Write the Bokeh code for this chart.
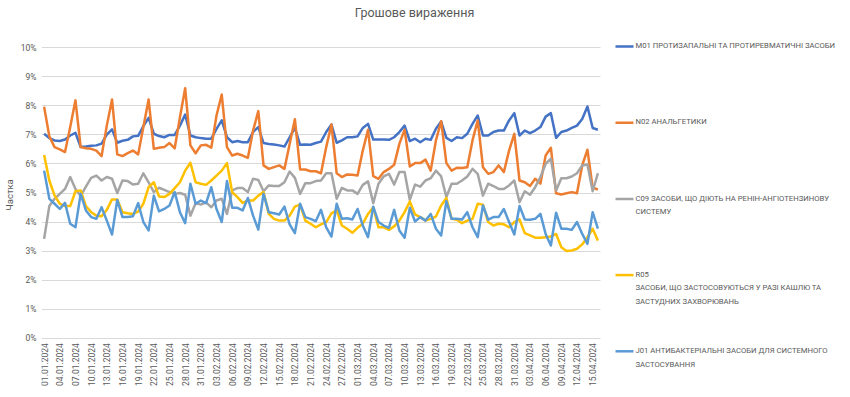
from datetime import date, timedelta
import numpy as np
from bokeh.plotting import figure
from bokeh.models import FixedTicker, Range1d
from bokeh.embed import file_html
from bokeh.resources import INLINE
from bokeh.core.properties import value

# ---------------- data (share, %) ----------------
dates = [(date(2024, 1, 1) + timedelta(days=i)).strftime("%d.%m.%Y") for i in range(107)]

m01 = [7.04, 6.89, 6.81, 6.79, 6.84, 6.98, 7.07, 6.58, 6.60, 6.63, 6.64, 6.70, 7.01, 7.19, 6.73, 6.80, 6.83, 6.95, 6.97, 7.30, 7.59, 7.04,
       6.96, 6.92, 7.00, 7.00, 7.32, 7.70, 6.98, 6.92, 6.89, 6.87, 6.87, 7.21, 7.50, 6.92, 6.75, 6.79, 6.75, 6.75, 7.10, 7.27, 6.72,
       6.69, 6.67, 6.64, 6.60, 6.92, 7.24, 6.66, 6.67, 6.66, 6.72, 6.77, 7.10, 7.36, 6.73, 6.81, 6.92, 6.92, 6.95, 7.24, 7.38, 6.84,
       6.84, 6.84, 6.83, 6.92, 7.10, 7.32, 6.79, 6.87, 6.75, 6.87, 6.83, 7.21, 7.46, 6.90, 6.79, 6.92, 6.89, 7.04, 7.38, 7.67, 6.98, 6.98,
       7.10, 7.15, 7.15, 7.50, 7.75, 6.98, 7.15, 7.06, 7.15, 7.27, 7.63, 7.75, 6.90, 7.10, 7.15, 7.24, 7.32, 7.55, 7.98, 7.24, 7.18]

n02 = [7.97, 6.95, 6.58, 6.50, 6.41, 7.27, 8.19, 6.58, 6.54, 6.52, 6.46, 6.27, 7.32, 8.22, 6.33, 6.27, 6.37, 6.46, 6.33, 7.27, 8.22, 6.52,
       6.56, 6.58, 6.72, 6.54, 7.61, 8.61, 6.64, 6.37, 6.64, 6.66, 6.56, 7.67, 8.39, 6.58, 6.29, 6.35, 6.29, 6.21, 7.15, 7.82, 5.95,
       5.83, 5.89, 5.95, 5.83, 6.69, 7.54, 5.81, 5.81, 5.75, 5.75, 5.68, 6.58, 7.36, 5.68, 5.55, 5.64, 5.63, 5.60, 6.46, 7.18, 5.58,
       5.49, 5.72, 5.83, 5.97, 6.69, 7.18, 5.91, 6.03, 6.03, 6.15, 5.77, 6.81, 7.47, 6.03, 5.77, 5.87, 5.86, 5.89, 6.81, 7.50, 5.89, 5.66,
       5.72, 5.95, 5.72, 6.46, 7.04, 5.43, 5.37, 5.24, 5.49, 5.32, 6.29, 6.56, 4.99, 4.95, 4.99, 5.03, 4.99, 5.95, 6.49, 5.18, 5.12]

c09 = [3.42, 4.55, 4.80, 4.97, 5.14, 5.55, 5.14, 4.90, 5.22, 5.52, 5.60, 5.43, 5.55, 5.49, 5.00, 5.43, 5.41, 5.29, 5.32, 5.68, 5.37, 5.03,
       5.18, 5.11, 5.03, 4.97, 5.00, 4.94, 4.22, 4.65, 4.60, 4.68, 4.51, 4.74, 4.80, 4.28, 5.09, 5.17, 5.17, 5.03, 5.49, 5.45, 5.06,
       5.26, 5.24, 5.24, 5.37, 5.74, 5.52, 4.97, 5.34, 5.34, 5.41, 5.43, 5.68, 5.68, 4.80, 5.18, 5.09, 5.09, 4.97, 5.28, 5.40, 4.65,
       5.32, 5.57, 5.66, 5.29, 5.72, 5.72, 4.76, 5.29, 5.22, 5.43, 5.51, 5.77, 5.57, 4.86, 5.32, 5.32, 5.43, 5.57, 5.83, 5.66, 4.91, 5.32,
       5.24, 5.14, 5.14, 5.26, 5.43, 4.68, 5.06, 4.94, 5.20, 5.55, 6.00, 6.18, 5.09, 5.51, 5.51, 5.57, 5.68, 5.95, 5.98, 5.06, 5.68]

r05 = [6.31, 5.43, 4.91, 4.63, 4.55, 4.55, 5.06, 5.09, 4.55, 4.34, 4.22, 4.20, 4.42, 4.78, 4.78, 4.34, 4.30, 4.28, 4.36, 4.63, 5.20, 5.37,
       4.88, 4.86, 4.97, 5.17, 5.37, 5.77, 6.04, 5.37, 5.32, 5.28, 5.43, 5.60, 5.77, 6.03, 5.03, 4.86, 4.66, 4.74, 4.74, 4.91, 5.03,
       4.28, 4.11, 4.05, 4.05, 4.22, 4.53, 4.60, 4.05, 3.94, 3.82, 3.92, 4.00, 4.30, 4.40, 3.88, 3.77, 3.63, 3.80, 3.94, 4.28, 4.51,
       3.82, 3.82, 3.73, 3.85, 4.05, 4.34, 4.71, 4.26, 4.17, 4.05, 4.11, 4.19, 4.57, 4.83, 4.11, 4.08, 3.96, 4.05, 4.11, 4.63, 4.60, 4.00,
       3.88, 3.94, 3.92, 3.82, 4.00, 4.09, 3.62, 3.54, 3.46, 3.46, 3.48, 3.50, 3.59, 3.13, 3.00, 3.02, 3.08, 3.23, 3.48, 3.77, 3.36]

j01 = [5.77, 4.80, 4.63, 4.45, 4.66, 3.94, 3.82, 4.97, 4.40, 4.17, 4.11, 4.51, 4.05, 3.57, 4.76, 4.17, 4.17, 4.20, 4.65, 4.00, 3.71, 4.91,
       4.37, 4.45, 4.57, 5.03, 4.34, 3.96, 5.32, 4.63, 4.74, 4.65, 5.20, 4.45, 4.00, 5.41, 4.49, 4.49, 4.40, 4.83, 4.22, 3.74, 4.97,
       4.34, 4.30, 4.26, 4.53, 3.92, 3.62, 4.63, 4.17, 4.11, 4.03, 4.42, 3.82, 3.50, 4.63, 4.11, 4.13, 4.09, 4.45, 3.88, 3.48, 4.53,
       4.00, 3.88, 3.80, 4.42, 3.71, 3.46, 4.49, 4.02, 4.17, 4.05, 4.28, 3.77, 3.54, 4.72, 4.11, 4.11, 4.09, 4.34, 3.82, 3.48, 4.57, 4.08,
       4.17, 4.17, 4.45, 4.00, 3.57, 4.55, 4.09, 4.08, 4.11, 4.28, 3.59, 3.19, 4.32, 3.77, 3.77, 3.73, 4.00, 3.59, 3.25, 4.34, 3.77]

series_names = [
    "M01 ПРОТИЗАПАЛЬНІ ТА ПРОТИРЕВМАТИЧНІ ЗАСОБИ",
    "N02 АНАЛЬГЕТИКИ",
    "C09 ЗАСОБИ, ЩО ДІЮТЬ НА РЕНІН-АНГІОТЕНЗИНОВУ\nСИСТЕМУ",
    "R05\nЗАСОБИ, ЩО ЗАСТОСОВУЮТЬСЯ У РАЗІ КАШЛЮ ТА\nЗАСТУДНИХ ЗАХВОРЮВАНЬ",
    "J01 АНТИБАКТЕРІАЛЬНІ ЗАСОБИ ДЛЯ СИСТЕМНОГО\nЗАСТОСУВАННЯ",
]
series_values = [m01, n02, c09, r05, j01]
colors = ["#4472C4", "#ED7D31", "#A5A5A5", "#FFC000", "#5B9BD5"]

title_text = "Грошове вираження"
y_title = "Частка"
y_ticks = list(range(0, 11))
y_tick_labels = [f"{t}%" for t in y_ticks]
x_ticks = list(range(0, 107, 3))

TXT = "#595959"
FONT = "Roboto"

# ---------------- geometry ----------------
OX, OY = 8, 0           # observed canvas origin on the page
BL = 35                 # left border for the y axis (canvas px)
FW, FH = 799, 389       # frame covers chart, legend and title areas
PLOT_W = 559            # width of the chart area (px)
GRID_TOP, GRID_ZERO = 47.3, 337.7   # page rows of the 10% and 0% lines
X0, X1 = -0.5, 106.5
ppx = PLOT_W / (X1 - X0)
ppy = (GRID_ZERO - GRID_TOP) / 10.0
XR = X0 + FW / ppx
YT = 10 + (GRID_TOP - OY) / ppy
YB = -(FH + OY - GRID_ZERO) / ppy


def ax(px):   # page x pixel -> data x
    return X0 + (px - OX - BL) / ppx


def ay(py):   # page y pixel -> data y
    return YT - (py - OY) / ppy


days = list(range(len(dates)))
p = figure(frame_width=FW, frame_height=FH, x_range=Range1d(X0, XR), y_range=Range1d(YB, YT),
           output_backend="svg", toolbar_location=None,
           min_border_left=BL, min_border_right=0, min_border_top=0, min_border_bottom=0)
p.outline_line_color = None

for vals, c in zip(series_values, colors):
    p.line(days, vals, line_color=c, line_width=2.5, line_join="round")

p.xgrid.visible = False
p.ygrid.ticker = FixedTicker(ticks=y_ticks)
p.ygrid.grid_line_color = "#D9D9D9"
p.ygrid.grid_line_width = 1
p.ygrid.cross_bounds = (X0, X1)

p.yaxis.ticker = FixedTicker(ticks=y_ticks)
p.yaxis.major_label_overrides = {t: l for t, l in zip(y_ticks, y_tick_labels)}
p.yaxis.axis_label = y_title
p.yaxis.axis_label_text_font_style = "normal"
p.yaxis.axis_label_text_font_size = "9.5px"
p.yaxis.axis_label_text_color = TXT
p.yaxis.axis_label_text_font = FONT
p.yaxis.axis_label_standoff = 3
p.yaxis.major_label_standoff = 5

p.xaxis.ticker = FixedTicker(ticks=x_ticks)
p.xaxis.major_label_overrides = {t: dates[t] for t in x_ticks}
p.xaxis.major_label_orientation = np.pi / 2
p.xaxis.major_label_standoff = 5
p.xaxis.fixed_location = 0

for axis in (p.xaxis, p.yaxis):
    axis.axis_line_color = None
    axis.major_tick_line_color = None
    axis.minor_tick_line_color = None
    axis.major_tick_out = 0
    axis.major_tick_in = 0
    axis.minor_tick_out = 0
    axis.major_label_text_font_size = "8.5px"
    axis.major_label_text_color = TXT
    axis.major_label_text_font = FONT

# ---------------- title ----------------
p.text(x=[ax(416)], y=[ay(12)], text=[title_text], text_align="center", text_baseline="middle",
       text_font=value(FONT), text_font_size="12.5px", text_color=TXT)

# ---------------- legend (right side) ----------------
item_y = [46 + 76.2 * i for i in range(len(series_names))]
p.segment(x0=[ax(617)] * 5, x1=[ax(635)] * 5, y0=[ay(v) for v in item_y], y1=[ay(v) for v in item_y],
          line_color=colors, line_width=2.5)
p.text(x=[ax(637)] * 5, y=[ay(v - 5.3) for v in item_y], text=series_names,
       text_align="left", text_baseline="top", text_font=value(FONT), text_font_size="7.7px",
       text_color=TXT, text_line_height=1.52)

open("out.html", "w").write(file_html(p, INLINE))
